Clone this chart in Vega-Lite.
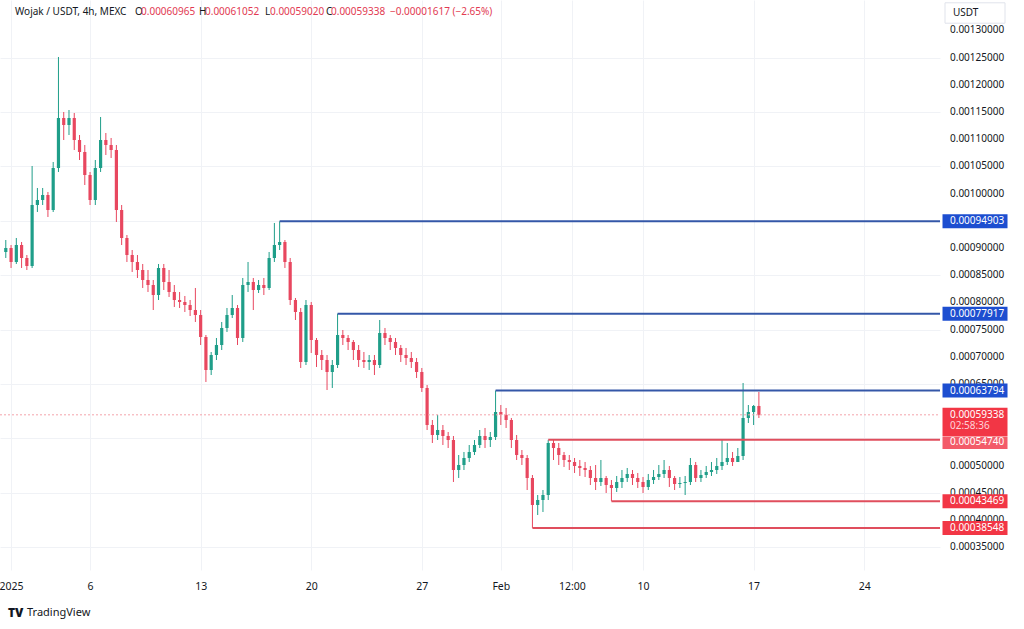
{
"$schema":"https://vega.github.io/schema/vega-lite/v6.json",
"width":940,"height":570,
"autosize":{"type":"none"},
"padding":{"left":0,"top":0,"right":84,"bottom":59},
"background":"#ffffff",
"config":{"view":{"stroke":null},"font":"Noto Sans","axis":{"labelOverlap":false},"scale":{"continuousPadding":0}},
"datasets":{
"candles":[
{"t":"2024-12-31T16:00","o":0.00089265,"h":0.00091470,"l":0.00088162,"c":0.00090000},
{"t":"2025-01-01T00:00","o":0.00090000,"h":0.00090551,"l":0.00086324,"c":0.00087427},
{"t":"2025-01-01T08:00","o":0.00087427,"h":0.00091838,"l":0.00087059,"c":0.00090551},
{"t":"2025-01-01T16:00","o":0.00090551,"h":0.00091103,"l":0.00086324,"c":0.00088162},
{"t":"2025-01-02T00:00","o":0.00088162,"h":0.00088713,"l":0.00085956,"c":0.00086692},
{"t":"2025-01-02T08:00","o":0.00086692,"h":0.00105072,"l":0.00086324,"c":0.00097903},
{"t":"2025-01-02T16:00","o":0.00097903,"h":0.00101028,"l":0.00096617,"c":0.00098822},
{"t":"2025-01-03T00:00","o":0.00098822,"h":0.00101028,"l":0.00097903,"c":0.00099741},
{"t":"2025-01-03T08:00","o":0.00099741,"h":0.00100293,"l":0.00095698,"c":0.00096984},
{"t":"2025-01-03T16:00","o":0.00096984,"h":0.00105807,"l":0.00096617,"c":0.00104704},
{"t":"2025-01-04T00:00","o":0.00104704,"h":0.00125106,"l":0.00103969,"c":0.00113894},
{"t":"2025-01-04T08:00","o":0.00113894,"h":0.00114997,"l":0.00109850,"c":0.00112607},
{"t":"2025-01-04T16:00","o":0.00112607,"h":0.00115364,"l":0.00110769,"c":0.00113894},
{"t":"2025-01-05T00:00","o":0.00113894,"h":0.00114813,"l":0.00108012,"c":0.00109850},
{"t":"2025-01-05T08:00","o":0.00109850,"h":0.00110769,"l":0.00106174,"c":0.00107645},
{"t":"2025-01-05T16:00","o":0.00107645,"h":0.00108931,"l":0.00101579,"c":0.00103417},
{"t":"2025-01-06T00:00","o":0.00103417,"h":0.00103969,"l":0.00097903,"c":0.00098822},
{"t":"2025-01-06T08:00","o":0.00098822,"h":0.00106174,"l":0.00097903,"c":0.00104704},
{"t":"2025-01-06T16:00","o":0.00104704,"h":0.00114078,"l":0.00103969,"c":0.00109850},
{"t":"2025-01-07T00:00","o":0.00109850,"h":0.00111137,"l":0.00107093,"c":0.00108931},
{"t":"2025-01-07T08:00","o":0.00108931,"h":0.00110218,"l":0.00106542,"c":0.00108012},
{"t":"2025-01-07T16:00","o":0.00108012,"h":0.00108931,"l":0.00094779,"c":0.00096984},
{"t":"2025-01-08T00:00","o":0.00096984,"h":0.00097903,"l":0.00090551,"c":0.00091838},
{"t":"2025-01-08T08:00","o":0.00091838,"h":0.00092389,"l":0.00087427,"c":0.00088713},
{"t":"2025-01-08T16:00","o":0.00088713,"h":0.00089632,"l":0.00085589,"c":0.00087427},
{"t":"2025-01-09T00:00","o":0.00087427,"h":0.00088713,"l":0.00084486,"c":0.00085956},
{"t":"2025-01-09T08:00","o":0.00085956,"h":0.00087059,"l":0.00082648,"c":0.00084118},
{"t":"2025-01-09T16:00","o":0.00084118,"h":0.00085956,"l":0.00081913,"c":0.00083199},
{"t":"2025-01-10T00:00","o":0.00083199,"h":0.00084118,"l":0.00078604,"c":0.00081361},
{"t":"2025-01-10T08:00","o":0.00081361,"h":0.00087059,"l":0.00080442,"c":0.00086324},
{"t":"2025-01-10T16:00","o":0.00086324,"h":0.00087059,"l":0.00082280,"c":0.00083751},
{"t":"2025-01-11T00:00","o":0.00083751,"h":0.00085956,"l":0.00080994,"c":0.00081913},
{"t":"2025-01-11T08:00","o":0.00081913,"h":0.00083199,"l":0.00079156,"c":0.00080442},
{"t":"2025-01-11T16:00","o":0.00080442,"h":0.00081913,"l":0.00078972,"c":0.00080075},
{"t":"2025-01-12T00:00","o":0.00080075,"h":0.00081178,"l":0.00078237,"c":0.00079523},
{"t":"2025-01-12T08:00","o":0.00079523,"h":0.00080442,"l":0.00077502,"c":0.00078604},
{"t":"2025-01-12T16:00","o":0.00078604,"h":0.00082648,"l":0.00076399,"c":0.00077685},
{"t":"2025-01-13T00:00","o":0.00077685,"h":0.00078604,"l":0.00072171,"c":0.00073642},
{"t":"2025-01-13T08:00","o":0.00073642,"h":0.00074009,"l":0.00065371,"c":0.00067576},
{"t":"2025-01-13T16:00","o":0.00067576,"h":0.00070885,"l":0.00066657,"c":0.00070333},
{"t":"2025-01-14T00:00","o":0.00070333,"h":0.00073458,"l":0.00069414,"c":0.00072171},
{"t":"2025-01-14T08:00","o":0.00072171,"h":0.00076399,"l":0.00071252,"c":0.00075296},
{"t":"2025-01-14T16:00","o":0.00075296,"h":0.00078972,"l":0.00074561,"c":0.00077685},
{"t":"2025-01-15T00:00","o":0.00077685,"h":0.00081361,"l":0.00077134,"c":0.00078972},
{"t":"2025-01-15T08:00","o":0.00078972,"h":0.00079523,"l":0.00072171,"c":0.00073458},
{"t":"2025-01-15T16:00","o":0.00073458,"h":0.00084486,"l":0.00072723,"c":0.00083199},
{"t":"2025-01-16T00:00","o":0.00083199,"h":0.00087427,"l":0.00081913,"c":0.00083751},
{"t":"2025-01-16T08:00","o":0.00083751,"h":0.00084486,"l":0.00078604,"c":0.00082280},
{"t":"2025-01-16T16:00","o":0.00082280,"h":0.00084118,"l":0.00081729,"c":0.00083199},
{"t":"2025-01-17T00:00","o":0.00083199,"h":0.00084486,"l":0.00081361,"c":0.00082648},
{"t":"2025-01-17T08:00","o":0.00082648,"h":0.00089265,"l":0.00082280,"c":0.00088162},
{"t":"2025-01-17T16:00","o":0.00088162,"h":0.00094595,"l":0.00087427,"c":0.00090551},
{"t":"2025-01-18T00:00","o":0.00090551,"h":0.00094903,"l":0.00089632,"c":0.00091103},
{"t":"2025-01-18T08:00","o":0.00091103,"h":0.00091470,"l":0.00086324,"c":0.00087427},
{"t":"2025-01-18T16:00","o":0.00087427,"h":0.00088162,"l":0.00079523,"c":0.00080442},
{"t":"2025-01-19T00:00","o":0.00080442,"h":0.00080810,"l":0.00076766,"c":0.00078237},
{"t":"2025-01-19T08:00","o":0.00078237,"h":0.00078972,"l":0.00067944,"c":0.00069047},
{"t":"2025-01-19T16:00","o":0.00069047,"h":0.00080442,"l":0.00068495,"c":0.00079523},
{"t":"2025-01-20T00:00","o":0.00079523,"h":0.00080075,"l":0.00070701,"c":0.00073090},
{"t":"2025-01-20T08:00","o":0.00073090,"h":0.00073458,"l":0.00068128,"c":0.00070333},
{"t":"2025-01-20T16:00","o":0.00070333,"h":0.00071252,"l":0.00067576,"c":0.00069414},
{"t":"2025-01-21T00:00","o":0.00069414,"h":0.00070333,"l":0.00063900,"c":0.00067209},
{"t":"2025-01-21T08:00","o":0.00067209,"h":0.00069414,"l":0.00064268,"c":0.00068495},
{"t":"2025-01-21T16:00","o":0.00068495,"h":0.00077917,"l":0.00067944,"c":0.00074009},
{"t":"2025-01-22T00:00","o":0.00074009,"h":0.00074928,"l":0.00072171,"c":0.00073458},
{"t":"2025-01-22T08:00","o":0.00073458,"h":0.00074009,"l":0.00071252,"c":0.00072723},
{"t":"2025-01-22T16:00","o":0.00072723,"h":0.00073090,"l":0.00069414,"c":0.00071252},
{"t":"2025-01-23T00:00","o":0.00071252,"h":0.00072171,"l":0.00068128,"c":0.00069414},
{"t":"2025-01-23T08:00","o":0.00069414,"h":0.00070885,"l":0.00067944,"c":0.00069047},
{"t":"2025-01-23T16:00","o":0.00069047,"h":0.00070333,"l":0.00067576,"c":0.00069414},
{"t":"2025-01-24T00:00","o":0.00069414,"h":0.00070333,"l":0.00066657,"c":0.00068495},
{"t":"2025-01-24T08:00","o":0.00068495,"h":0.00076766,"l":0.00067944,"c":0.00074377},
{"t":"2025-01-24T16:00","o":0.00074377,"h":0.00075296,"l":0.00072171,"c":0.00073458},
{"t":"2025-01-25T00:00","o":0.00073458,"h":0.00074009,"l":0.00071252,"c":0.00072723},
{"t":"2025-01-25T08:00","o":0.00072723,"h":0.00073458,"l":0.00070333,"c":0.00071620},
{"t":"2025-01-25T16:00","o":0.00071620,"h":0.00072171,"l":0.00069047,"c":0.00070333},
{"t":"2025-01-26T00:00","o":0.00070333,"h":0.00071620,"l":0.00068495,"c":0.00069782},
{"t":"2025-01-26T08:00","o":0.00069782,"h":0.00070885,"l":0.00067944,"c":0.00069047},
{"t":"2025-01-26T16:00","o":0.00069047,"h":0.00069782,"l":0.00066106,"c":0.00067209},
{"t":"2025-01-27T00:00","o":0.00067209,"h":0.00067944,"l":0.00063533,"c":0.00064268},
{"t":"2025-01-27T08:00","o":0.00064268,"h":0.00064819,"l":0.00056548,"c":0.00057467},
{"t":"2025-01-27T16:00","o":0.00057467,"h":0.00058386,"l":0.00054159,"c":0.00055629},
{"t":"2025-01-28T00:00","o":0.00055629,"h":0.00059338,"l":0.00054710,"c":0.00056548},
{"t":"2025-01-28T08:00","o":0.00056548,"h":0.00057467,"l":0.00053791,"c":0.00055446},
{"t":"2025-01-28T16:00","o":0.00055446,"h":0.00056181,"l":0.00053240,"c":0.00054710},
{"t":"2025-01-29T00:00","o":0.00054710,"h":0.00055446,"l":0.00046991,"c":0.00049196},
{"t":"2025-01-29T08:00","o":0.00049196,"h":0.00051953,"l":0.00047726,"c":0.00050115},
{"t":"2025-01-29T16:00","o":0.00050115,"h":0.00052505,"l":0.00049196,"c":0.00051402},
{"t":"2025-01-30T00:00","o":0.00051402,"h":0.00053791,"l":0.00050667,"c":0.00052505},
{"t":"2025-01-30T08:00","o":0.00052505,"h":0.00054710,"l":0.00051953,"c":0.00053791},
{"t":"2025-01-30T16:00","o":0.00053791,"h":0.00056548,"l":0.00053240,"c":0.00055446},
{"t":"2025-01-31T00:00","o":0.00055446,"h":0.00056916,"l":0.00053240,"c":0.00054710},
{"t":"2025-01-31T08:00","o":0.00054710,"h":0.00056181,"l":0.00053424,"c":0.00055262},
{"t":"2025-01-31T16:00","o":0.00055262,"h":0.00063794,"l":0.00054710,"c":0.00059857},
{"t":"2025-02-01T00:00","o":0.00059857,"h":0.00061143,"l":0.00057467,"c":0.00059338},
{"t":"2025-02-01T08:00","o":0.00059338,"h":0.00060592,"l":0.00056916,"c":0.00058386},
{"t":"2025-02-01T16:00","o":0.00058386,"h":0.00058754,"l":0.00053240,"c":0.00054710},
{"t":"2025-02-02T00:00","o":0.00054710,"h":0.00055629,"l":0.00051034,"c":0.00051953},
{"t":"2025-02-02T08:00","o":0.00051953,"h":0.00052872,"l":0.00050115,"c":0.00051402},
{"t":"2025-02-02T16:00","o":0.00051402,"h":0.00051953,"l":0.00045520,"c":0.00047726},
{"t":"2025-02-03T00:00","o":0.00047726,"h":0.00048277,"l":0.00038548,"c":0.00042763},
{"t":"2025-02-03T08:00","o":0.00042763,"h":0.00044601,"l":0.00040925,"c":0.00043682},
{"t":"2025-02-03T16:00","o":0.00043682,"h":0.00045520,"l":0.00041477,"c":0.00044601},
{"t":"2025-02-04T00:00","o":0.00044601,"h":0.00054740,"l":0.00043682,"c":0.00054159},
{"t":"2025-02-04T08:00","o":0.00054159,"h":0.00054710,"l":0.00051034,"c":0.00053240},
{"t":"2025-02-04T16:00","o":0.00053240,"h":0.00054159,"l":0.00050115,"c":0.00051953},
{"t":"2025-02-05T00:00","o":0.00051953,"h":0.00052505,"l":0.00049748,"c":0.00051034},
{"t":"2025-02-05T08:00","o":0.00051034,"h":0.00051953,"l":0.00049196,"c":0.00050667},
{"t":"2025-02-05T16:00","o":0.00050667,"h":0.00051402,"l":0.00048645,"c":0.00049932},
{"t":"2025-02-06T00:00","o":0.00049932,"h":0.00051034,"l":0.00048094,"c":0.00049564},
{"t":"2025-02-06T08:00","o":0.00049564,"h":0.00050667,"l":0.00047910,"c":0.00049196},
{"t":"2025-02-06T16:00","o":0.00049196,"h":0.00049932,"l":0.00046439,"c":0.00047726},
{"t":"2025-02-07T00:00","o":0.00047726,"h":0.00050115,"l":0.00045520,"c":0.00046991},
{"t":"2025-02-07T08:00","o":0.00046991,"h":0.00051034,"l":0.00046256,"c":0.00047726},
{"t":"2025-02-07T16:00","o":0.00047726,"h":0.00048094,"l":0.00044969,"c":0.00046439},
{"t":"2025-02-08T00:00","o":0.00046439,"h":0.00047358,"l":0.00043469,"c":0.00045888},
{"t":"2025-02-08T08:00","o":0.00045888,"h":0.00048094,"l":0.00045153,"c":0.00046991},
{"t":"2025-02-08T16:00","o":0.00046991,"h":0.00049196,"l":0.00045888,"c":0.00047726},
{"t":"2025-02-09T00:00","o":0.00047726,"h":0.00049564,"l":0.00046991,"c":0.00048461},
{"t":"2025-02-09T08:00","o":0.00048461,"h":0.00049196,"l":0.00046439,"c":0.00047726},
{"t":"2025-02-09T16:00","o":0.00047726,"h":0.00048645,"l":0.00045888,"c":0.00046991},
{"t":"2025-02-10T00:00","o":0.00046991,"h":0.00047910,"l":0.00044969,"c":0.00046072},
{"t":"2025-02-10T08:00","o":0.00046072,"h":0.00048461,"l":0.00045520,"c":0.00047358},
{"t":"2025-02-10T16:00","o":0.00047358,"h":0.00049196,"l":0.00046623,"c":0.00047910},
{"t":"2025-02-11T00:00","o":0.00047910,"h":0.00050115,"l":0.00047358,"c":0.00048461},
{"t":"2025-02-11T08:00","o":0.00048461,"h":0.00051034,"l":0.00047726,"c":0.00049196},
{"t":"2025-02-11T16:00","o":0.00049196,"h":0.00049932,"l":0.00046072,"c":0.00047726},
{"t":"2025-02-12T00:00","o":0.00047726,"h":0.00048094,"l":0.00045520,"c":0.00046623},
{"t":"2025-02-12T08:00","o":0.00046623,"h":0.00047910,"l":0.00045888,"c":0.00046807},
{"t":"2025-02-12T16:00","o":0.00046807,"h":0.00048094,"l":0.00044601,"c":0.00046991},
{"t":"2025-02-13T00:00","o":0.00046991,"h":0.00051402,"l":0.00046439,"c":0.00050115},
{"t":"2025-02-13T08:00","o":0.00050115,"h":0.00050667,"l":0.00046991,"c":0.00047726},
{"t":"2025-02-13T16:00","o":0.00047726,"h":0.00049196,"l":0.00046991,"c":0.00048277},
{"t":"2025-02-14T00:00","o":0.00048277,"h":0.00049932,"l":0.00047726,"c":0.00048829},
{"t":"2025-02-14T08:00","o":0.00048829,"h":0.00050667,"l":0.00048094,"c":0.00049196},
{"t":"2025-02-14T16:00","o":0.00049196,"h":0.00051402,"l":0.00048461,"c":0.00049932},
{"t":"2025-02-15T00:00","o":0.00049932,"h":0.00054710,"l":0.00049196,"c":0.00050667},
{"t":"2025-02-15T08:00","o":0.00050667,"h":0.00054159,"l":0.00050115,"c":0.00051402},
{"t":"2025-02-15T16:00","o":0.00051402,"h":0.00052505,"l":0.00049932,"c":0.00050667},
{"t":"2025-02-16T00:00","o":0.00050667,"h":0.00053240,"l":0.00050667,"c":0.00051770},
{"t":"2025-02-16T08:00","o":0.00051770,"h":0.00065187,"l":0.00051034,"c":0.00058754},
{"t":"2025-02-16T16:00","o":0.00058754,"h":0.00061143,"l":0.00057835,"c":0.00059857},
{"t":"2025-02-17T00:00","o":0.00059857,"h":0.00061143,"l":0.00057467,"c":0.00060965},
{"t":"2025-02-17T08:00","o":0.00060965,"h":0.00063533,"l":0.00058754,"c":0.00059338}
],
"levels":[
{"price":0.00094903,"start":"2025-01-18T00:00","kind":"res"},
{"price":0.00077917,"start":"2025-01-21T16:00","kind":"res"},
{"price":0.00063794,"start":"2025-01-31T16:00","kind":"res"},
{"price":0.0005474,"start":"2025-02-04T00:00","kind":"sup"},
{"price":0.00043469,"start":"2025-02-08T00:00","kind":"sup"},
{"price":0.00038548,"start":"2025-02-03T00:00","kind":"sup"}
],
"yticks":[{"v":0.00035},{"v":0.0004},{"v":0.00045},{"v":0.0005},{"v":0.00065},{"v":0.0007},{"v":0.00075},{"v":0.0008},{"v":0.00085},{"v":0.0009},{"v":0.001},{"v":0.00105},{"v":0.0011},{"v":0.00115},{"v":0.0012},{"v":0.00125},{"v":0.0013}],
"last":[{"price":0.00059338,"timer":"02:58:36"}]
},
"layer":[
{"data":{"name":"candles"},
 "mark":{"type":"rule","strokeWidth":1},
 "encoding":{
  "x":{"field":"t","type":"temporal","title":null,
   "scale":{"domain":[{"year":2024,"month":12,"date":31,"hours":7,"minutes":12},{"year":2025,"month":2,"date":28,"hours":19,"minutes":8}],"nice":false,"padding":0},
   "axis":{"values":[{"year":2025,"month":1,"date":1},{"year":2025,"month":1,"date":6},{"year":2025,"month":1,"date":13},{"year":2025,"month":1,"date":20},{"year":2025,"month":1,"date":27},{"year":2025,"month":2,"date":1},{"year":2025,"month":2,"date":5,"hours":12},{"year":2025,"month":2,"date":10},{"year":2025,"month":2,"date":17},{"year":2025,"month":2,"date":24}],
    "labelExpr":"hours(datum.value) == 12 ? '12:00' : (month(datum.value) == 0 && date(datum.value) == 1) ? '2025' : date(datum.value) == 1 ? 'Feb' : '' + date(datum.value)",
    "grid":true,"gridColor":"#f0f2f6","gridWidth":1,"domain":false,"ticks":false,"labelPadding":11,"labelFontSize":10.5,"labelColor":"#131722","labelFlush":false,"labelOverlap":false,"labelFont":"Noto Sans"}},
  "y":{"field":"l","type":"quantitative","title":null,
   "scale":{"domain":[0.00030816,0.00135582],"zero":false,"nice":false,"padding":0},
   "axis":{"orient":"right","values":[0.00035,0.0004,0.00045,0.0005,0.00055,0.0006,0.00065,0.0007,0.00075,0.0008,0.00085,0.0009,0.00095,0.001,0.00105,0.0011,0.00115,0.0012,0.00125,0.0013],
    "labels":false,"grid":true,"gridColor":"#f0f2f6","gridWidth":1,"domain":false,"ticks":false}},
  "y2":{"field":"h"},
  "color":{"condition":{"test":"datum.c >= datum.o","value":"#1f9e89"},"value":"#e8475f"}
 }},
{"data":{"name":"candles"},
 "mark":{"type":"bar","width":3.2},
 "encoding":{
  "x":{"field":"t","type":"temporal","title":null},
  "y":{"field":"o","type":"quantitative","title":null},
  "y2":{"field":"c"},
  "color":{"condition":{"test":"datum.c >= datum.o","value":"#1f9e89"},"value":"#e8475f"}
 }},
{"data":{"name":"yticks"},
 "mark":{"type":"text","align":"left","baseline":"middle","color":"#131722","fontSize":10},
 "encoding":{
  "x":{"datum":{"year":2025,"month":3,"date":1,"hours":10,"minutes":19},"type":"temporal","title":null},
  "y":{"field":"v","type":"quantitative","title":null},
  "text":{"field":"v","type":"quantitative","format":".8f"}
 }},
{"data":{"name":"last"},
 "mark":{"type":"rule","strokeDash":[2,2],"strokeWidth":1,"color":"#f4a3ab"},
 "encoding":{
  "x":{"datum":{"year":2024,"month":12,"date":31,"hours":7,"minutes":12},"type":"temporal","title":null},
  "x2":{"datum":{"year":2025,"month":2,"date":28,"hours":19,"minutes":8}},
  "y":{"field":"price","type":"quantitative","title":null}
 }},
{"data":{"name":"levels"},
 "mark":{"type":"rule","strokeWidth":2},
 "encoding":{
  "x":{"field":"start","type":"temporal","title":null},
  "x2":{"datum":{"year":2025,"month":2,"date":28,"hours":19,"minutes":8}},
  "y":{"field":"price","type":"quantitative","title":null},
  "color":{"condition":{"test":"datum.kind == 'res'","value":"#3457a8"},"value":"#e04e5d"}
 }},
{"data":{"name":"levels"},
 "transform":[{"filter":"datum.price != 0.0005474"}],
 "mark":{"type":"point","filled":true,"opacity":1,"strokeWidth":0,"size":4225,"shape":"M-1,-0.215H1V0.215H-1Z"},
 "encoding":{
  "x":{"datum":{"year":2025,"month":3,"date":3,"hours":0,"minutes":19},"type":"temporal","title":null},
  "y":{"field":"price","type":"quantitative","title":null},
  "color":{"condition":{"test":"datum.kind == 'res'","value":"#1d4ed0"},"value":"#f23645"}
 }},
{"data":{"name":"levels"},
 "transform":[{"filter":"datum.price == 0.0005474"}],
 "mark":{"type":"point","filled":true,"opacity":1,"strokeWidth":0,"size":4225,"shape":"M-1,-0.09H1V0.28H-1Z","color":"#f35b69"},
 "encoding":{
  "x":{"datum":{"year":2025,"month":3,"date":3,"hours":0,"minutes":19},"type":"temporal","title":null},
  "y":{"field":"price","type":"quantitative","title":null}
 }},
{"data":{"name":"last"},
 "mark":{"type":"point","filled":true,"opacity":1,"strokeWidth":0,"size":4225,"shape":"M-1,-0.215H1V0.67H-1Z","color":"#f23645"},
 "encoding":{
  "x":{"datum":{"year":2025,"month":3,"date":3,"hours":0,"minutes":19},"type":"temporal","title":null},
  "y":{"field":"price","type":"quantitative","title":null}
 }},
{"data":{"name":"levels"},
 "transform":[{"filter":"datum.price != 0.0005474"}],
 "mark":{"type":"text","align":"left","baseline":"middle","color":"#ffffff","fontSize":10},
 "encoding":{
  "x":{"datum":{"year":2025,"month":3,"date":1,"hours":10,"minutes":19},"type":"temporal","title":null},
  "y":{"field":"price","type":"quantitative","title":null},
  "text":{"field":"price","type":"quantitative","format":".8f"}
 }},
{"data":{"name":"levels"},
 "transform":[{"filter":"datum.price == 0.0005474"}],
 "mark":{"type":"text","align":"left","baseline":"middle","color":"#ffffff","fontSize":10,"dy":2},
 "encoding":{
  "x":{"datum":{"year":2025,"month":3,"date":1,"hours":10,"minutes":19},"type":"temporal","title":null},
  "y":{"field":"price","type":"quantitative","title":null},
  "text":{"field":"price","type":"quantitative","format":".8f"}
 }},
{"data":{"name":"last"},
 "mark":{"type":"text","align":"left","baseline":"middle","color":"#ffffff","fontSize":10},
 "encoding":{
  "x":{"datum":{"year":2025,"month":3,"date":1,"hours":10,"minutes":19},"type":"temporal","title":null},
  "y":{"field":"price","type":"quantitative","title":null},
  "text":{"field":"price","type":"quantitative","format":".8f"}
 }},
{"data":{"name":"last"},
 "mark":{"type":"text","align":"left","baseline":"middle","color":"#ffd3d8","fontSize":10,"dy":11.5},
 "encoding":{
  "x":{"datum":{"year":2025,"month":3,"date":1,"hours":10,"minutes":19},"type":"temporal","title":null},
  "y":{"field":"price","type":"quantitative","title":null},
  "text":{"field":"timer","type":"nominal"}
 }},
{"data":{"values":[{}]},
 "mark":{"type":"point","filled":true,"opacity":1,"fill":"#ffffff","stroke":"#e0e3eb","strokeWidth":1,"size":3600,"shape":"M-1,-0.34H1V0.34H-1Z"},
 "encoding":{
  "x":{"datum":{"year":2025,"month":3,"date":3,"hours":0,"minutes":19},"type":"temporal","title":null},
  "y":{"datum":0.00133193,"type":"quantitative","title":null}
 }},
{"data":{"values":[{}]},
 "mark":{"type":"text","align":"left","baseline":"middle","color":"#131722","fontSize":10,"text":"USDT"},
 "encoding":{
  "x":{"datum":{"year":2025,"month":3,"date":1,"hours":14,"minutes":53},"type":"temporal","title":null},
  "y":{"datum":0.00133193,"type":"quantitative","title":null}
 }},
{"data":{"values":[{}]},
 "mark":{"type":"text","align":"left","baseline":"middle","color":"#131722","fontSize":10,"text":"Wojak / USDT, 4h, MEXC"},
 "encoding":{
  "x":{"datum":{"year":2025,"month":1,"date":1,"hours":6},"type":"temporal","title":null},
  "y":{"datum":0.00133377,"type":"quantitative","title":null}
 }},
{"data":{"values":[{}]},
 "mark":{"type":"text","align":"left","baseline":"middle","color":"#131722","fontSize":10,"text":"O"},
 "encoding":{
  "x":{"datum":{"year":2025,"month":1,"date":8,"hours":20,"minutes":17},"type":"temporal","title":null},
  "y":{"datum":0.00133377,"type":"quantitative","title":null}
 }},
{"data":{"values":[{}]},
 "mark":{"type":"text","align":"left","baseline":"middle","color":"#e23a52","fontSize":10,"text":"0.00060965"},
 "encoding":{
  "x":{"datum":{"year":2025,"month":1,"date":9,"hours":5,"minutes":24},"type":"temporal","title":null},
  "y":{"datum":0.00133377,"type":"quantitative","title":null}
 }},
{"data":{"values":[{}]},
 "mark":{"type":"text","align":"left","baseline":"middle","color":"#131722","fontSize":10,"text":"H"},
 "encoding":{
  "x":{"datum":{"year":2025,"month":1,"date":12,"hours":21,"minutes":30},"type":"temporal","title":null},
  "y":{"datum":0.00133377,"type":"quantitative","title":null}
 }},
{"data":{"values":[{}]},
 "mark":{"type":"text","align":"left","baseline":"middle","color":"#e23a52","fontSize":10,"text":"0.00061052"},
 "encoding":{
  "x":{"datum":{"year":2025,"month":1,"date":13,"hours":6,"minutes":36},"type":"temporal","title":null},
  "y":{"datum":0.00133377,"type":"quantitative","title":null}
 }},
{"data":{"values":[{}]},
 "mark":{"type":"text","align":"left","baseline":"middle","color":"#131722","fontSize":10,"text":"L"},
 "encoding":{
  "x":{"datum":{"year":2025,"month":1,"date":17,"hours":1,"minutes":45},"type":"temporal","title":null},
  "y":{"datum":0.00133377,"type":"quantitative","title":null}
 }},
{"data":{"values":[{}]},
 "mark":{"type":"text","align":"left","baseline":"middle","color":"#e23a52","fontSize":10,"text":"0.00059020"},
 "encoding":{
  "x":{"datum":{"year":2025,"month":1,"date":17,"hours":9,"minutes":21},"type":"temporal","title":null},
  "y":{"datum":0.00133377,"type":"quantitative","title":null}
 }},
{"data":{"values":[{}]},
 "mark":{"type":"text","align":"left","baseline":"middle","color":"#131722","fontSize":10,"text":"C"},
 "encoding":{
  "x":{"datum":{"year":2025,"month":1,"date":20,"hours":22,"minutes":25},"type":"temporal","title":null},
  "y":{"datum":0.00133377,"type":"quantitative","title":null}
 }},
{"data":{"values":[{}]},
 "mark":{"type":"text","align":"left","baseline":"middle","color":"#e23a52","fontSize":10,"text":"0.00059338"},
 "encoding":{
  "x":{"datum":{"year":2025,"month":1,"date":21,"hours":6,"minutes":1},"type":"temporal","title":null},
  "y":{"datum":0.00133377,"type":"quantitative","title":null}
 }},
{"data":{"values":[{}]},
 "mark":{"type":"text","align":"left","baseline":"middle","color":"#e23a52","fontSize":10,"text":"−0.00001617 (−2.65%)"},
 "encoding":{
  "x":{"datum":{"year":2025,"month":1,"date":24,"hours":23,"minutes":38},"type":"temporal","title":null},
  "y":{"datum":0.00133377,"type":"quantitative","title":null}
 }},
{"data":{"values":[{}]},
 "mark":{"type":"text","align":"left","baseline":"middle","color":"#131722","fontSize":12,"fontWeight":900,"text":"TV"},
 "encoding":{
  "x":{"datum":{"year":2024,"month":12,"date":31,"hours":19,"minutes":21},"type":"temporal","title":null},
  "y":{"datum":0.00022913,"type":"quantitative","title":null}
 }},
{"data":{"values":[{}]},
 "mark":{"type":"text","align":"left","baseline":"middle","color":"#131722","fontSize":11,"text":"TradingView"},
 "encoding":{
  "x":{"datum":{"year":2025,"month":1,"date":2,"hours":0,"minutes":13},"type":"temporal","title":null},
  "y":{"datum":0.00022913,"type":"quantitative","title":null}
 }}
]
}
